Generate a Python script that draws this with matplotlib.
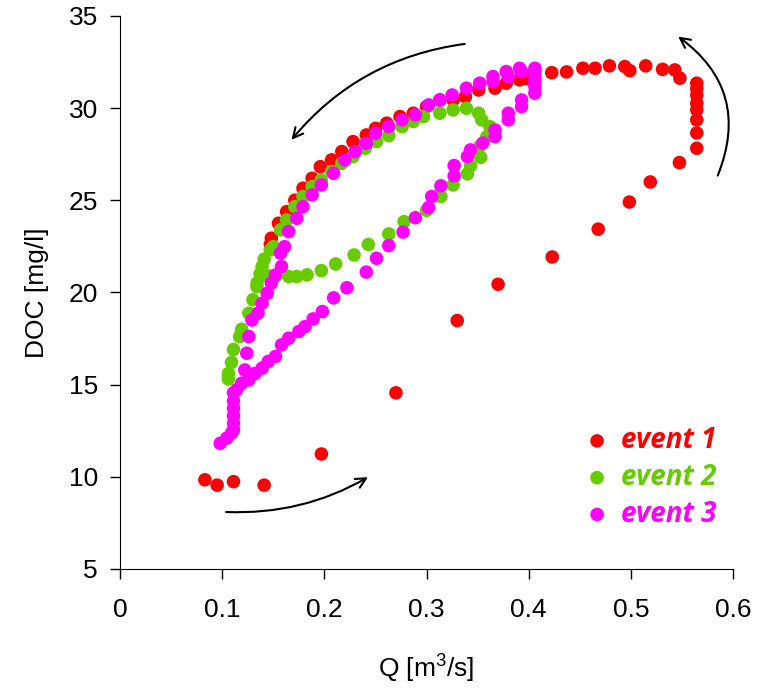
import matplotlib
matplotlib.use("Agg")
import matplotlib.pyplot as plt

# ---- data ----
q_event1 = [0.083, 0.095, 0.111, 0.141, 0.197, 0.270, 0.330, 0.370, 0.423, 0.468, 0.4985, 0.519, 0.5475,
            0.5645, 0.5645, 0.5645, 0.5645, 0.5645, 0.5645, 0.5645, 0.5645,
            0.548, 0.543, 0.531, 0.5145, 0.499, 0.494, 0.479, 0.465, 0.453, 0.437, 0.4225,
            0.405, 0.398, 0.391, 0.378, 0.367, 0.351, 0.338, 0.326, 0.313, 0.300, 0.287, 0.274, 0.261,
            0.250, 0.241, 0.228, 0.217, 0.207, 0.196, 0.188, 0.179, 0.171, 0.163, 0.155, 0.148, 0.147]
doc_event1 = [9.83, 9.54, 9.73, 9.54, 11.23, 14.55, 18.47, 20.44, 21.92, 23.43, 24.9, 25.99, 27.04,
              27.82, 28.65, 29.36, 29.9, 30.26, 30.7, 31.05, 31.35,
              31.62, 32.07, 32.1, 32.29, 32.03, 32.25, 32.29, 32.16, 32.16, 31.96, 31.92,
              31.75, 31.6, 31.53, 31.35, 31.08, 30.98, 30.62, 30.44, 30.44, 30.08, 29.72, 29.54, 29.18,
              28.9, 28.54, 28.18, 27.64, 27.19, 26.82, 26.19, 25.65, 25.0, 24.38, 23.75, 22.94, 22.6]

q_event2 = [0.106, 0.106, 0.109, 0.111, 0.117, 0.119, 0.126, 0.130, 0.134, 0.137, 0.139, 0.141, 0.145, 0.152,
            0.165, 0.173, 0.183, 0.197, 0.211, 0.229, 0.243, 0.263, 0.278, 0.300, 0.314, 0.326, 0.340,
            0.343, 0.353, 0.352, 0.359, 0.362, 0.354, 0.351, 0.339, 0.326, 0.313, 0.297, 0.287, 0.276,
            0.263, 0.251, 0.240, 0.228, 0.217, 0.207, 0.197, 0.188, 0.179, 0.171, 0.163, 0.157, 0.150,
            0.147, 0.139, 0.134]
doc_event2 = [15.3, 15.6, 16.2, 16.9, 17.6, 18.0, 18.87, 19.6, 20.31, 21.0, 20.9, 21.8, 20.9, 20.86,
              20.86, 20.86, 20.95, 21.18, 21.54, 22.03, 22.6, 23.17, 23.84, 24.45, 25.2, 25.83, 26.43,
              26.86, 27.33, 27.91, 28.45, 28.99, 29.36, 29.72, 29.99, 29.9, 29.72, 29.54, 29.27, 28.99,
              28.5, 28.18, 27.82, 27.37, 27.0, 26.55, 26.1, 25.74, 25.2, 24.65, 23.93, 23.39, 22.48,
              22.3, 21.4, 20.5]

q_event3 = [0.098, 0.1044, 0.109, 0.111, 0.111, 0.111, 0.111, 0.111, 0.111, 0.114, 0.119, 0.126, 0.132,
            0.139, 0.145, 0.152, 0.158, 0.165, 0.175, 0.181, 0.189, 0.198, 0.209, 0.222, 0.241, 0.251,
            0.263, 0.277, 0.289, 0.302, 0.305, 0.314, 0.327, 0.327, 0.340, 0.343, 0.355, 0.367, 0.367,
            0.380, 0.380, 0.393, 0.393, 0.406, 0.406, 0.406, 0.406, 0.406, 0.406,
            0.391, 0.393, 0.378, 0.380, 0.365, 0.365, 0.352, 0.339, 0.325, 0.313, 0.302, 0.289, 0.276,
            0.263, 0.250, 0.241, 0.230, 0.220, 0.209, 0.197, 0.188, 0.179, 0.173, 0.165, 0.161, 0.157,
            0.158, 0.152, 0.148, 0.144, 0.139, 0.135, 0.129, 0.126, 0.124, 0.122]
doc_event3 = [11.81, 12.09, 12.36, 12.54, 12.9, 13.3, 13.7, 14.1, 14.55, 14.71, 15.07, 15.25, 15.6,
              15.89, 16.25, 16.52, 17.15, 17.51, 17.88, 18.14, 18.56, 18.96, 19.7, 20.25, 21.1, 21.85,
              22.54, 23.27, 24.05, 24.6, 25.2, 25.78, 26.32, 26.88, 27.37, 27.73, 28.1, 28.45, 28.81,
              29.36, 29.72, 30.08, 30.44, 30.81, 31.17, 31.45, 31.71, 32.0, 32.16,
              32.16, 31.98, 31.98, 31.71, 31.71, 31.44, 31.35, 31.08, 30.71, 30.44, 30.17, 29.63, 29.36,
              29.0, 28.63, 28.09, 27.64, 27.19, 26.46, 25.83, 25.29, 24.65, 24.02, 23.3, 22.48, 22.13,
              21.4, 20.94, 20.5, 19.95, 19.41, 18.87, 18.5, 17.6, 16.7, 15.79]

labels = ["event 1", "event 2", "event 3"]
colors = ["#FF0000", "#66CC00", "#FF00FF"]
x_ticks = [0, 0.1, 0.2, 0.3, 0.4, 0.5, 0.6]
x_tick_labels = ["0", "0.1", "0.2", "0.3", "0.4", "0.5", "0.6"]
y_ticks = [5, 10, 15, 20, 25, 30, 35]

plt.rcParams['font.family'] = ['Liberation Sans', 'DejaVu Sans']
plt.rcParams['mathtext.fontset'] = 'custom'
plt.rcParams['mathtext.rm'] = 'Liberation Sans'
plt.rcParams['mathtext.it'] = 'Liberation Sans:italic'

fig = plt.figure(figsize=(7.7, 6.92), dpi=100)
ax = fig.add_axes([0.156, 0.178, 0.796, 0.799])

series = [(q_event1, doc_event1), (q_event2, doc_event2), (q_event3, doc_event3)]
for (q, d), lab, c in zip(series, labels, colors):
    ax.scatter(q, d, s=95, color=c, label=lab, edgecolors='none', zorder=3)

ax.set_xlim(0, 0.6)
ax.set_ylim(5, 35)
ax.set_xticks(x_ticks)
ax.set_xticklabels(x_tick_labels)
ax.set_yticks(y_ticks)
ax.tick_params(direction='out', length=7, width=1, labelsize=19)
ax.tick_params(axis='x', pad=14)
ax.tick_params(axis='y', pad=9)
for s in ['top', 'right']:
    ax.spines[s].set_visible(False)
ax.set_xlabel(r"Q [m$^{\mathregular{3}}$/s]", fontsize=19, labelpad=22)
ax.set_ylabel("DOC [mg/l]", fontsize=19, labelpad=14)

leg = ax.legend(loc='upper left', bbox_to_anchor=(0.7555, 0.258), frameon=False,
                borderpad=0, borderaxespad=0, handlelength=1.0, handletextpad=0.36,
                labelspacing=0.28, markerscale=1.0, scatterpoints=1,
                prop={'family': 'Open Sans', 'weight': 'bold', 'style': 'italic', 'size': 20})
for t, c in zip(leg.get_texts(), colors):
    t.set_color(c)

arrow = dict(arrowstyle='->', color='black', lw=1.5, mutation_scale=18)
ax.annotate("", xy=(0.166, 28.16), xytext=(0.340, 33.5),
            arrowprops=dict(arrow, connectionstyle="arc3,rad=0.2"))
ax.annotate("", xy=(0.544, 33.97), xytext=(0.584, 26.2),
            arrowprops=dict(arrow, connectionstyle="arc3,rad=0.4"))
ax.annotate("", xy=(0.245, 10.05), xytext=(0.101, 8.09),
            arrowprops=dict(arrow, connectionstyle="arc3,rad=0.15"))

fig.savefig("out.png", dpi=100)
